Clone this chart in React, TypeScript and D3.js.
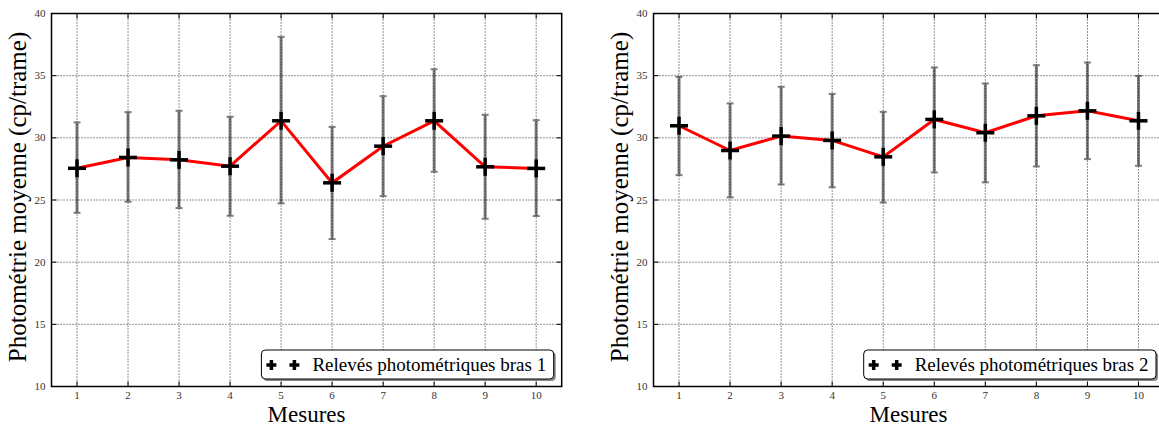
import React from "react";
import * as d3 from "d3";

const measures = [1, 2, 3, 4, 5, 6, 7, 8, 9, 10];
const bras1Mean = [27.55, 28.42, 28.23, 27.72, 31.37, 26.38, 29.33, 31.37, 27.67, 27.54];
const bras1Low = [23.97, 24.86, 24.35, 23.73, 24.73, 21.86, 25.31, 27.27, 23.49, 23.71];
const bras1High = [31.24, 32.07, 32.17, 31.69, 38.12, 30.88, 33.35, 35.52, 31.85, 31.42];
const bras2Mean = [30.97, 28.98, 30.14, 29.79, 28.47, 31.48, 30.41, 31.77, 32.17, 31.37];
const bras2Low = [27.0, 25.21, 26.25, 26.03, 24.8, 27.22, 26.42, 27.7, 28.29, 27.75];
const bras2High = [34.9, 32.77, 34.1, 33.53, 32.09, 35.66, 34.37, 35.84, 36.06, 34.98];
const yTicks = [10, 15, 20, 25, 30, 35, 40];
const xTicks = measures;
const yLabel = "Photométrie moyenne (cp/trame)";
const xLabel = "Mesures";
const legend1 = "Relevés photométriques bras 1";
const legend2 = "Relevés photométriques bras 2";

const FONT = "'Liberation Serif', 'DejaVu Serif', serif";

type PanelProps = {
  x0: number;
  x1: number;
  mean: number[];
  low: number[];
  high: number[];
  legend: string;
};

function Plus({ cx, cy, s, w }: { cx: number; cy: number; s: number; w: number }) {
  return (
    <g stroke="#000" strokeWidth={w}>
      <line x1={cx - s / 2} x2={cx + s / 2} y1={cy} y2={cy} />
      <line x1={cx} x2={cx} y1={cy - s / 2} y2={cy + s / 2} />
    </g>
  );
}

function Panel({ x0, x1, mean, low, high, legend }: PanelProps) {
  const top = 13.5;
  const bottom = 386.5;
  const x = d3.scaleLinear().domain([0.5, 10.5]).range([x0, x1]);
  const y = d3.scaleLinear().domain([10, 40]).range([bottom, top]);
  const line = d3
    .line<number>()
    .x((_, i) => x(measures[i]))
    .y((d) => y(d));
  const tickLen = 5;
  const legR = x1 - 8;
  const legL = legR - 292.3;
  const legT = 350;
  const legB = 379;
  return (
    <g>
      {/* grid */}
      <g stroke="#000" strokeWidth={1} strokeDasharray="1,2" opacity={0.85}>
        {xTicks.map((t) => (
          <line key={"gx" + t} x1={x(t)} x2={x(t)} y1={top} y2={bottom} />
        ))}
        {yTicks.map((t) => (
          <line key={"gy" + t} x1={x0} x2={x1} y1={y(t)} y2={y(t)} />
        ))}
      </g>
      {/* ticks */}
      <g stroke="#000" strokeWidth={1}>
        {xTicks.map((t) => (
          <g key={"tx" + t}>
            <line x1={x(t)} x2={x(t)} y1={bottom} y2={bottom - tickLen} />
            <line x1={x(t)} x2={x(t)} y1={top} y2={top + tickLen} />
          </g>
        ))}
        {yTicks.map((t) => (
          <g key={"ty" + t}>
            <line x1={x0} x2={x0 + tickLen} y1={y(t)} y2={y(t)} />
            <line x1={x1} x2={x1 - tickLen} y1={y(t)} y2={y(t)} />
          </g>
        ))}
      </g>
      {/* tick labels */}
      <g fontFamily={FONT} fontSize={11} fill="#333">
        {xTicks.map((t) => (
          <text key={"lx" + t} x={x(t)} y={398.5} textAnchor="middle">
            {t}
          </text>
        ))}
        {yTicks.map((t) => (
          <text key={"ly" + t} x={x0 - 6} y={y(t) + 3.5} textAnchor="end">
            {t}
          </text>
        ))}
      </g>
      {/* error bars */}
      <g stroke="#000" opacity={0.5}>
        {measures.map((m, i) => (
          <g key={"e" + m}>
            <line x1={x(m)} x2={x(m)} y1={y(low[i])} y2={y(high[i])} strokeWidth={3} />
            <line x1={x(m) - 3.5} x2={x(m) + 3.5} y1={y(low[i])} y2={y(low[i])} strokeWidth={2} />
            <line x1={x(m) - 3.5} x2={x(m) + 3.5} y1={y(high[i])} y2={y(high[i])} strokeWidth={2} />
          </g>
        ))}
      </g>
      {/* line */}
      <path d={line(mean) || ""} fill="none" stroke="#ff0000" strokeWidth={3} />
      {measures.map((m, i) => (
        <Plus key={"p" + m} cx={x(m)} cy={y(mean[i])} s={18} w={3.5} />
      ))}
      {/* spines */}
      <rect x={x0} y={top} width={x1 - x0} height={bottom - top} fill="none" stroke="#000" strokeWidth={1.5} />
      {/* axis labels */}
      <text
        fontFamily={FONT}
        fontSize={25}
        fill="#000"
        textAnchor="middle"
        transform={`translate(${x0 - 26},${(top + bottom) / 2 - 3}) rotate(-90)`}
      >
        {yLabel}
      </text>
      <text fontFamily={FONT} fontSize={23} fill="#000" textAnchor="middle" x={x0 + 255} y={421.5}>
        {xLabel}
      </text>
      {/* legend */}
      <rect x={legL + 2} y={legT + 2} width={legR - legL} height={legB - legT} rx={4} fill="#888" />
      <rect x={legL} y={legT} width={legR - legL} height={legB - legT} rx={4} fill="#fff" stroke="#000" strokeWidth={1} />
      <Plus cx={legL + 10} cy={365} s={10} w={3.5} />
      <Plus cx={legL + 33} cy={365} s={10} w={3.5} />
      <text fontFamily={FONT} fontSize={19} fill="#000" x={legL + 51} y={371}>
        {legend}
      </text>
    </g>
  );
}

export default function App() {
  return (
    <svg
      width={1159}
      height={425}
      style={{ position: "absolute", left: 0, top: 0, background: "#fff" }}
    >
      <rect width={1159} height={425} fill="#fff" />
      <Panel x0={51.5} x1={561.7} mean={bras1Mean} low={bras1Low} high={bras1High} legend={legend1} />
      <Panel x0={653.5} x1={1164} mean={bras2Mean} low={bras2Low} high={bras2High} legend={legend2} />
    </svg>
  );
}
